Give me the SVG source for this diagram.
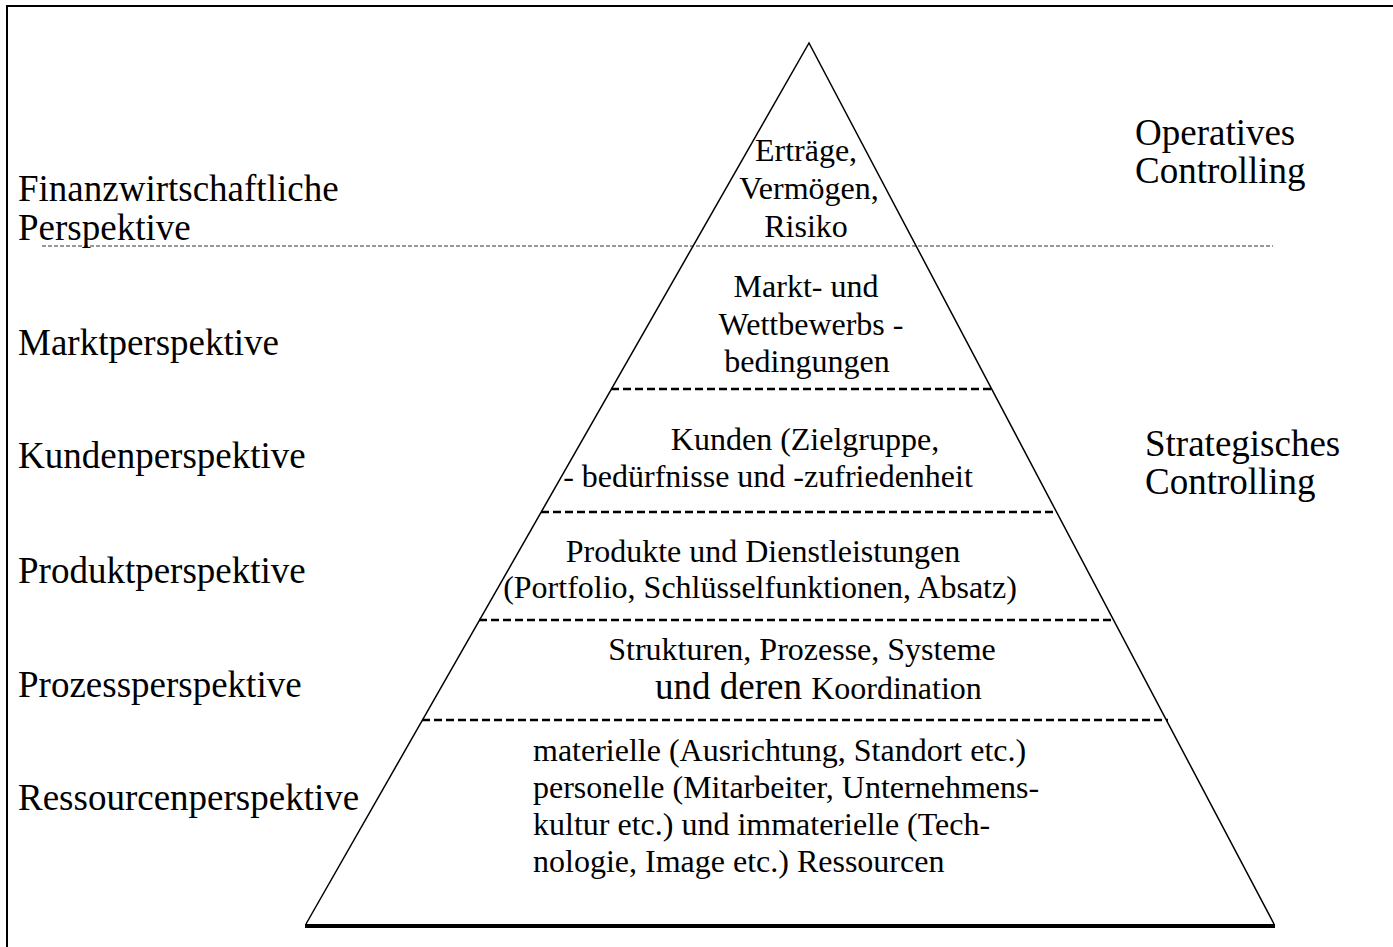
<svg xmlns="http://www.w3.org/2000/svg" width="1393" height="947" viewBox="0 0 1393 947">
<style>
text{font-family:"Liberation Serif","Times New Roman",serif;fill:#000}
.lbl{font-size:37px}
.in{font-size:32px}
.mid{text-anchor:middle}
.edge{stroke:#000;stroke-width:1.5;fill:none}
.sep{stroke:#000;stroke-width:2.5;stroke-dasharray:8 4;fill:none}
.thin{stroke:#333;stroke-width:1;stroke-dasharray:4 2;fill:none}
</style>
<rect width="1393" height="947" fill="#fff"/>
<path d="M7,947 V6 H1393" fill="none" stroke="#000" stroke-width="2"/>
<g id="connectors">
<path class="thin" d="M42,246 H1273"/>
<path class="edge" d="M306,924 L809,43 L1274,924"/>
<path d="M305,926 H1275" stroke="#000" stroke-width="4"/>
<path class="sep" d="M611,389 H992"/>
<path class="sep" d="M541,512 H1057"/>
<path class="sep" d="M479,620 H1115"/>
<path class="sep" d="M422,720 H1168"/>
</g>
<g id="label-finanz"><text class="lbl" x="18" y="201">Finanzwirtschaftliche</text><text class="lbl" x="18" y="240">Perspektive</text></g>
<g id="label-markt"><text class="lbl" x="18" y="355">Marktperspektive</text></g>
<g id="label-kunden"><text class="lbl" x="18" y="468">Kundenperspektive</text></g>
<g id="label-produkt"><text class="lbl" x="18" y="583">Produktperspektive</text></g>
<g id="label-prozess"><text class="lbl" x="18" y="697">Prozessperspektive</text></g>
<g id="label-ressourcen"><text class="lbl" x="18" y="810">Ressourcenperspektive</text></g>
<g id="label-operativ"><text class="lbl" x="1135" y="145">Operatives</text><text class="lbl" x="1135" y="183">Controlling</text></g>
<g id="label-strategisch"><text class="lbl" x="1145" y="456">Strategisches</text><text class="lbl" x="1145" y="494">Controlling</text></g>
<g id="tier-finanz">
<text class="in mid" x="806" y="161">Erträge,</text>
<text class="in mid" x="809" y="199">Vermögen,</text>
<text class="in mid" x="806" y="237">Risiko</text>
</g>
<g id="tier-markt">
<text class="in mid" x="806" y="297">Markt- und</text>
<text class="in mid" x="811" y="335">Wettbewerbs -</text>
<text class="in mid" x="807" y="372">bedingungen</text>
</g>
<g id="tier-kunden">
<text class="in mid" x="805" y="450">Kunden (Zielgruppe,</text>
<text class="in mid" x="768" y="487">- bedürfnisse und -zufriedenheit</text>
</g>
<g id="tier-produkt">
<text class="in mid" x="763" y="562">Produkte und Dienstleistungen</text>
<text class="in mid" x="760" y="598">(Portfolio, Schlüsselfunktionen, Absatz)</text>
</g>
<g id="tier-prozess">
<text class="in mid" x="802" y="660">Strukturen, Prozesse, Systeme</text>
<text class="in" x="655" y="699"><tspan font-size="37">und deren </tspan>Koordination</text>
</g>
<g id="tier-ressourcen">
<text class="in" x="533" y="761">materielle (Ausrichtung, Standort etc.)</text>
<text class="in" x="533" y="798">personelle (Mitarbeiter, Unternehmens-</text>
<text class="in" x="533" y="835">kultur etc.) und immaterielle (Tech-</text>
<text class="in" x="533" y="872">nologie, Image etc.) Ressourcen</text>
</g>
</svg>
